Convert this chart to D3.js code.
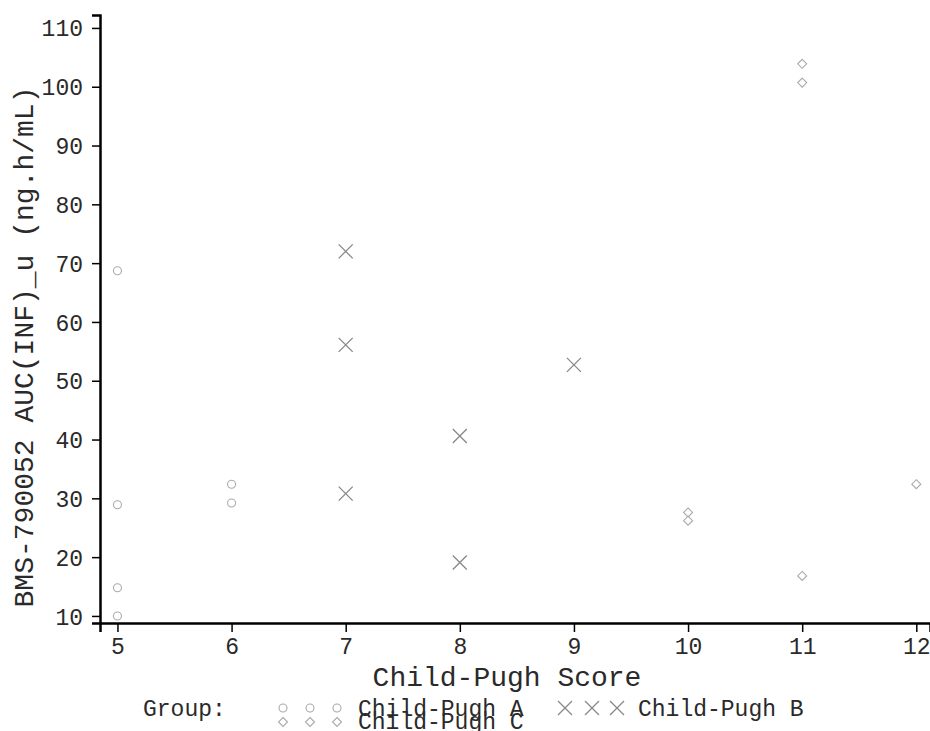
<!DOCTYPE html>
<html><head><meta charset="utf-8">
<script src="https://cdn.jsdelivr.net/npm/d3@7"></script>
<style>body{margin:0;background:#fff}svg{display:block}text{font-family:"Liberation Mono","Courier New",monospace;fill:#2a2a2a}</style>
</head><body><svg id="c" width="930" height="731"></svg>
<script>
const xTicks = [5,6,7,8,9,10,11,12];
const yTicks = [10,20,30,40,50,60,70,80,90,100,110];
const groupA = {name:"Child-Pugh A", score:[5,5,5,5,6,6], auc:[68.7,28.9,14.8,10.0,32.4,29.2]};
const groupB = {name:"Child-Pugh B", score:[7,7,7,8,8,9], auc:[72.0,56.1,30.8,40.6,19.1,52.7]};
const groupC = {name:"Child-Pugh C", score:[10,10,11,11,11,12], auc:[27.6,26.2,16.8,103.9,100.7,32.4]};
const xTitle = "Child-Pugh Score";
const yTitle = "BMS-790052 AUC(INF)_u (ng.h/mL)";

const svg = d3.select("#c");
const x = d3.scaleLinear().domain([4.847,12.12]).range([100,930]);
const y = d3.scaleLinear().domain([8.8,112.2]).range([623,15]);

const gx = svg.append("g").attr("transform","translate(0,623)")
  .call(d3.axisBottom(x).tickValues(xTicks).tickSize(9).tickPadding(6).tickFormat(d3.format("d")));
const gy = svg.append("g").attr("transform","translate(100,0)")
  .call(d3.axisLeft(y).tickValues(yTicks).tickSize(8).tickPadding(9).tickFormat(d3.format("d")));
[gx,gy].forEach(g=>{
  g.select(".domain").attr("stroke","#000").attr("stroke-width",2.5);
  g.selectAll(".tick line").attr("stroke","#000").attr("stroke-width",1.5);
  g.selectAll(".tick text").attr("font-size",23).attr("font-family","Liberation Mono").attr("fill","#2a2a2a");
});
gy.selectAll(".tick text").attr("dy","0.35em");

svg.append("text").attr("x",507).attr("y",686).attr("text-anchor","middle").attr("font-size",28).text(xTitle);
svg.append("text").attr("transform","translate(33,347) rotate(-90)").attr("text-anchor","middle").attr("font-size",28).text(yTitle);

function circle(g,cx,cy){g.append("circle").attr("cx",cx).attr("cy",cy).attr("r",4).attr("fill","none").attr("stroke","#aaa").attr("stroke-width",1.1);}
function cross(g,cx,cy){const s=7;g.append("path").attr("d",`M${cx-s},${cy-s}L${cx+s},${cy+s}M${cx-s},${cy+s}L${cx+s},${cy-s}`).attr("stroke","#888").attr("stroke-width",1.3).attr("fill","none");}
function diamond(g,cx,cy){const s=4.5;g.append("path").attr("d",`M${cx},${cy-s}L${cx+s},${cy}L${cx},${cy+s}L${cx-s},${cy}Z`).attr("stroke","#aaa").attr("stroke-width",1.1).attr("fill","none");}

const pts = svg.append("g");
groupA.score.forEach((s,i)=>circle(pts,x(s),y(groupA.auc[i])));
groupB.score.forEach((s,i)=>cross(pts,x(s),y(groupB.auc[i])));
groupC.score.forEach((s,i)=>diamond(pts,x(s),y(groupC.auc[i])));

const lg = svg.append("g");
lg.append("text").attr("x",143).attr("y",716).attr("font-size",23).text("Group:");
[283,310,337].forEach(cx=>circle(lg,cx,708));
[283,310,337].forEach(cx=>diamond(lg,cx,722));
[565,592,617].forEach(cx=>cross(lg,cx,708));
lg.append("text").attr("x",358).attr("y",716).attr("font-size",23).text(groupA.name);
lg.append("text").attr("x",358).attr("y",729).attr("font-size",23).text(groupC.name);
lg.append("text").attr("x",638).attr("y",716).attr("font-size",23).text(groupB.name);
</script></body></html>
